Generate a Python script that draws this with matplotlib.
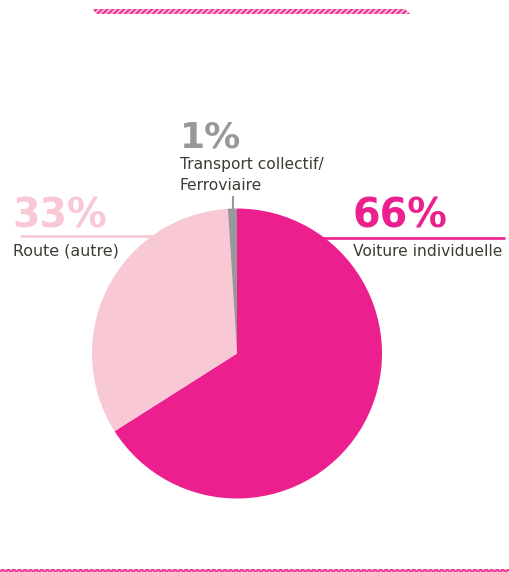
import matplotlib
matplotlib.use("Agg")
import matplotlib.pyplot as plt
from matplotlib.patches import Polygon, Rectangle

# Data
labels = ["Voiture individuelle", "Route (autre)", "Transport collectif/\nFerroviaire"]
values = [66, 33, 1]
pct_labels = ["66%", "33%", "1%"]
colors = ["#EC1F8E", "#F8C8D4", "#98989B"]

W, H = 509, 572
fig = plt.figure(figsize=(W / 100, H / 100), dpi=100)
ax = fig.add_axes([0, 0, 1, 1])

def Y(y):
    return H - y

cx, cy, r = 237, 353.5, 145
ax.pie(values, colors=colors, startangle=90, counterclock=False,
       center=(cx, Y(cy)), radius=r, wedgeprops=dict(linewidth=0),
       frame=True)
ax.set_xlim(0, W)
ax.set_ylim(0, H)
ax.set_aspect("equal")
ax.axis("off")

dark = "#3C3C34"
fam = "DejaVu Sans"

# 66% label
ax.text(353, Y(228), pct_labels[0], color=colors[0], fontsize=28.5,
        fontweight="bold", family=fam, va="baseline", ha="left")
ax.plot([322, 505], [Y(237.5), Y(237.5)], color=colors[0], lw=1.9,
        solid_capstyle="butt")
ax.text(353, Y(256), labels[0], color=dark, fontsize=11.2, family=fam,
        va="baseline", ha="left")

# 33% label
ax.text(12, Y(228), pct_labels[1], color=colors[1], fontsize=28.5,
        fontweight="bold", family=fam, va="baseline", ha="left")
ax.plot([20, 156], [Y(235.5), Y(235.5)], color=colors[1], lw=1.9,
        solid_capstyle="butt")
ax.text(13, Y(255), labels[1], color=dark, fontsize=11.4, family=fam,
        va="baseline", ha="left")

# 1% label
ax.text(180, Y(147), pct_labels[2], color=colors[2], fontsize=26,
        fontweight="bold", family=fam, va="baseline", ha="left")
ax.text(180, Y(169), "Transport collectif/", color=dark, fontsize=11.2,
        family=fam, va="baseline", ha="left")
ax.text(180, Y(190), "Ferroviaire", color=dark, fontsize=11.2,
        family=fam, va="baseline", ha="left")
ax.plot([233, 233], [Y(196), Y(212)], color=colors[2], lw=1.5,
        solid_capstyle="butt")

# decorative hatched bands
plt.rcParams["hatch.linewidth"] = 1.4
top = Polygon([(92, Y(9)), (405, Y(9)), (410, Y(14)), (97, Y(14))],
              closed=True, facecolor="#FBB8DB", edgecolor="#EE2E90",
              hatch="//////", linewidth=0)
ax.add_patch(top)
bot = Rectangle((0, Y(571.5)), W, 2.5, facecolor="#FBC3E0",
                edgecolor="#EE3C98", hatch="xxxxxx", linewidth=0)
ax.add_patch(bot)

fig.savefig("out.png", dpi=100)
